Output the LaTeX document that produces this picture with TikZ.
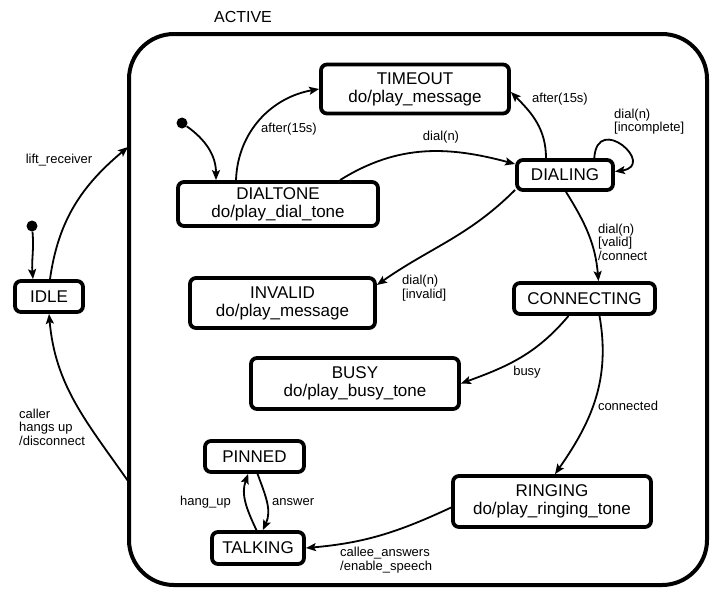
\documentclass[tikz,border=0pt]{standalone}
\usepackage{fontspec}
\setmainfont{Liberation Sans}
\usetikzlibrary{arrows.meta}
\begin{document}
\begin{tikzpicture}[x=1pt,y=-1pt,
  state/.style={draw, line width=3.8pt, rounded corners=6pt, align=center,
    inner sep=0pt, font=\fontsize{17}{18}\selectfont},
  trans/.style={line width=1.8pt, -{Stealth[length=10pt,width=8pt,inset=2pt]}},
  lbl/.style={font=\fontsize{13}{13.5}\selectfont, align=left, inner sep=0pt},
  initdot/.style={circle, fill, inner sep=0pt, minimum size=11pt}]
\useasboundingbox (0,0) rectangle (712,595);

% composite state
\node[draw, line width=4pt, rounded corners=45pt, minimum width=578pt,
  minimum height=551pt] (active) at (418,309.5) {};
\node[font=\fontsize{16}{16}\selectfont, inner sep=0pt] (activelbl) at (243,17) {ACTIVE};
\coordinate (liftin) at (128,147);
\coordinate (hangout) at (128,481);

% states
\node[state, minimum width=188pt, minimum height=49pt] (timeout) at (415,89) {TIMEOUT\\do/play\_message};
\node[state, minimum width=200pt, minimum height=44pt] (dialtone) at (278,204) {DIALTONE\\do/play\_dial\_tone};
\node[state, minimum width=96pt, minimum height=30pt] (dialing) at (565,175) {DIALING};
\node[state, minimum width=185pt, minimum height=50pt] (invalid) at (282.5,303) {INVALID\\do/play\_message};
\node[state, minimum width=141pt, minimum height=31pt] (connecting) at (584.5,298.5) {CONNECTING};
\node[state, minimum width=208pt, minimum height=51pt] (busy) at (355,383.5) {BUSY\\do/play\_busy\_tone};
\node[state, minimum width=99pt, minimum height=31pt] (pinned) at (254.5,456.5) {PINNED};
\node[state, minimum width=92pt, minimum height=32pt] (talking) at (258,548) {TALKING};
\node[state, minimum width=198pt, minimum height=51pt] (ringing) at (552,501.5) {RINGING\\do/play\_ringing\_tone};
\node[state, minimum width=68pt, minimum height=31pt] (idle) at (49,296.5) {IDLE};

% initial pseudostates
\node[initdot] (init1) at (182,123) {};
\node[initdot] (init2) at (32,226) {};

% transitions
\draw[trans] (init1) to[out=-35,in=90] ([xshift=-62pt]dialtone.north);
\draw[trans] (init2) to[out=-85,in=95] ([xshift=-16pt]idle.north);

\draw[trans] ([xshift=1pt]idle.north) to[out=82,in=220] (liftin);
\node[lbl] (l1) at (59,160) {lift\_receiver};

\draw[trans] (hangout) to[out=125,in=-85] (idle.south);
\node[lbl, anchor=west] (l2) at (19,427) {caller\\hangs up\\/disconnect};

\draw[trans] ([xshift=-42pt]dialtone.north) to[out=88,in=190] (timeout.west);
\node[lbl] (l3) at (289,129) {after(15s)};

\draw[trans] ([xshift=62pt]dialtone.north) to[out=32,in=165] ([yshift=11pt]dialing.west);
\node[lbl] (l4) at (441,137) {dial(n)};

\draw[trans] ([xshift=-19pt]dialing.north) to[out=90,in=-45] ([yshift=-3pt]timeout.east);
\node[lbl] (l5) at (560,99) {after(15s)};

\draw[trans] (dialing.30) .. controls +(3,-46) and +(42,-6) .. (dialing.4);
\node[lbl, anchor=west] (l6) at (614,121.5) {dial(n)\\{}[incomplete]};

\draw[trans] ([yshift=2pt]dialing.south west) to[out=-135,in=35] ([yshift=18pt]invalid.east);
\node[lbl, anchor=west] (l7) at (402,288) {dial(n)\\{}[invalid]};

\draw[trans] ([xshift=1pt]dialing.south) to[out=-58,in=95] ([xshift=14pt]connecting.north);
\node[lbl, anchor=west] (l8) at (598,242) {dial(n)\\{}[valid]\\/connect};

\draw[trans] ([xshift=-16pt]connecting.south) to[out=-130,in=20] (busy.east);
\node[lbl] (l9) at (527,372) {busy};

\draw[trans] ([xshift=15pt]connecting.south) to[out=-80,in=55] ([xshift=3pt]ringing.north);
\node[lbl] (l10) at (628,406) {connected};

\draw[trans] ([yshift=-6pt]ringing.west) to[out=205,in=5] (talking.east);
\node[lbl, anchor=west] (l11) at (340,560) {callee\_answers\\/enable\_speech};

\draw[trans] (talking.95) to[out=115,in=-110] (pinned.250);
\node[lbl, anchor=east] (l12) at (231,502) {hang\_up};

\draw[trans] (pinned.280) to[out=-70,in=65] (talking.75);
\node[lbl, anchor=west] (l13) at (272,502) {answer};
\end{tikzpicture}
\end{document}
